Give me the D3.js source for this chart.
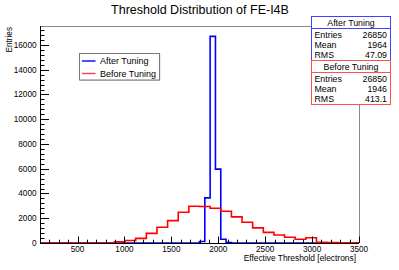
<!DOCTYPE html>
<html lang="en">
<head>
<meta charset="UTF-8">
<title>Threshold Distribution of FE-I4B</title>
<script src="https://d3js.org/d3.v7.min.js"></script>
<style>
  body { margin: 0; background: #fff; }
  svg text { font-family: "Liberation Sans", Arial, sans-serif; fill: #000; }
</style>
</head>
<body>
<svg width="399" height="270"></svg>
<script>
// histogram range and binning
const xRange = [100, 3500];

// "Before Tuning" (30 bins)
const beforeCounts = [0, 0, 0, 0, 0, 0, 0, 100, 200, 370,
                      780, 1270, 1810, 2490, 2970, 2950, 2810, 2560, 2110, 1680,
                      1220, 860, 650, 460, 300, 420, 60, 40, 25, 15];

// "After Tuning" (60 bins)
const afterCounts = [0, 0, 0, 0, 0, 0, 0, 0, 0, 0,
                     0, 0, 0, 0, 0, 0, 0, 0, 0, 0,
                     0, 0, 0, 0, 0, 0, 0, 0, 0, 0,
                     120, 3650, 16700, 5970, 300, 30, 0, 0, 0, 0,
                     0, 0, 0, 0, 0, 0, 0, 0, 0, 0,
                     0, 0, 0, 0, 0, 0, 0, 0, 0, 0];

const xTicks = [500, 1000, 1500, 2000, 2500, 3000, 3500];
const yTicks = [0, 2000, 4000, 6000, 8000, 10000, 12000, 14000, 16000];

const statsAfter = [["Entries", "26850"], ["Mean", "1964"], ["RMS", "47.09"]];
const statsBefore = [["Entries", "26850"], ["Mean", "1946"], ["RMS", "413.1"]];

const svg = d3.select("svg");
const m = {left: 40, right: 359, top: 26, bottom: 243};

const x = d3.scaleLinear().domain(xRange).range([m.left, m.right]);
const yMax = 1.05 * d3.max(afterCounts);
const y = d3.scaleLinear().domain([0, yMax]).range([m.bottom, m.top]);

// title
svg.append("text")
    .attr("x", 200).attr("y", 14)
    .attr("text-anchor", "middle")
    .style("font-size", "12.5px")
    .text("Threshold Distribution of FE-I4B");

// frame (top and right in grey)
svg.append("path")
    .attr("d", `M${m.left},${m.top + 0.5}H${m.right + 0.5}V${m.bottom}`)
    .attr("fill", "none").attr("stroke", "#8a8a8a").attr("stroke-width", 1);

// step outline of a histogram
function histPath(counts) {
  const w = (xRange[1] - xRange[0]) / counts.length;
  const pts = [[xRange[0], 0]];
  counts.forEach((c, i) => {
    pts.push([xRange[0] + i * w, c]);
    pts.push([xRange[0] + (i + 1) * w, c]);
  });
  pts.push([xRange[1], 0]);
  return d3.line().x(d => x(d[0])).y(d => y(d[1]))(pts);
}

svg.append("path")
    .attr("d", histPath(afterCounts))
    .attr("fill", "none").attr("stroke", "#0000ff").attr("stroke-width", 1.6);

svg.append("path")
    .attr("d", histPath(beforeCounts))
    .attr("fill", "none").attr("stroke", "#ff0000").attr("stroke-width", 1.6);

// y axis, ticks pointing inward
const gy = svg.append("g");
gy.append("line")
    .attr("x1", m.left + 0.5).attr("x2", m.left + 0.5).attr("y1", m.top).attr("y2", m.bottom)
    .attr("stroke", "#000");
gy.selectAll(".minor")
  .data(d3.range(0, yMax, 400))
  .enter().append("line")
    .attr("x1", m.left).attr("x2", d => m.left + (d % 2000 === 0 ? 9 : 4.5))
    .attr("y1", d => Math.round(y(d)) + 0.5).attr("y2", d => Math.round(y(d)) + 0.5)
    .attr("stroke", "#000");
gy.selectAll(".lab")
  .data(yTicks)
  .enter().append("text")
    .attr("x", m.left - 3.5).attr("y", d => y(d) + 3)
    .attr("text-anchor", "end")
    .style("font-size", "8.2px")
    .text(d => d);
svg.append("text")
    .attr("transform", `translate(12,${m.top + 1}) rotate(-90)`)
    .attr("text-anchor", "end")
    .style("font-size", "8.2px")
    .text("Entries");

// x axis
const gx = svg.append("g");
gx.append("line")
    .attr("x1", m.left).attr("x2", m.right).attr("y1", m.bottom + 0.5).attr("y2", m.bottom + 0.5)
    .attr("stroke", "#000");
gx.selectAll(".minor")
  .data(d3.range(200, 3501, 100))
  .enter().append("line")
    .attr("x1", d => Math.round(x(d)) + 0.5).attr("x2", d => Math.round(x(d)) + 0.5)
    .attr("y1", m.bottom).attr("y2", d => m.bottom - (d % 500 === 0 ? 6.5 : 3.3))
    .attr("stroke", "#000");
gx.selectAll(".lab")
  .data(xTicks)
  .enter().append("text")
    .attr("x", d => x(d)).attr("y", 252)
    .attr("text-anchor", "middle")
    .style("font-size", "8.2px")
    .text(d => d);
svg.append("text")
    .attr("x", m.right - 3).attr("y", 261)
    .attr("text-anchor", "end")
    .style("font-size", "8.4px")
    .text("Effective Threshold [electrons]");

// legend
const leg = svg.append("g").attr("transform", "translate(79.5,53.5)");
leg.append("rect")
    .attr("x", 0.8).attr("y", 0.8).attr("width", 80).attr("height", 26.5)
    .attr("fill", "#bbb");
leg.append("rect")
    .attr("width", 80).attr("height", 26.5)
    .attr("fill", "#fff").attr("stroke", "#777");
[["After Tuning", "#0000ff"], ["Before Tuning", "#ff4040"]].forEach((d, i) => {
  const cy = 7.5 + i * 12.5;
  leg.append("line")
      .attr("x1", 2.5).attr("x2", 16).attr("y1", cy).attr("y2", cy)
      .attr("stroke", d[1]).attr("stroke-width", 1.4);
  leg.append("text")
      .attr("x", 20.5).attr("y", cy + 3.2)
      .style("font-size", "9px")
      .text(d[0]);
});

// stats boxes
function statsBox(y0, title, rows, color) {
  const g = svg.append("g").attr("transform", `translate(311.5,${y0})`);
  g.append("rect")
      .attr("width", 79).attr("height", 44)
      .attr("fill", "#fff").attr("stroke", color);
  g.append("line")
      .attr("x1", 0).attr("x2", 79).attr("y1", 12).attr("y2", 12)
      .attr("stroke", color);
  g.append("text")
      .attr("x", 39.5).attr("y", 9.7)
      .attr("text-anchor", "middle")
      .style("font-size", "8.8px")
      .text(title);
  rows.forEach((r, i) => {
    g.append("text")
        .attr("x", 3).attr("y", 21.2 + i * 10.3)
        .style("font-size", "8.8px")
        .text(r[0]);
    g.append("text")
        .attr("x", 75.5).attr("y", 21.2 + i * 10.3)
        .attr("text-anchor", "end")
        .style("font-size", "8.8px")
        .text(r[1]);
  });
}
statsBox(16.5, "After Tuning", statsAfter, "#4040ff");
statsBox(60.5, "Before Tuning", statsBefore, "#ff5050");
</script>
</body>
</html>
